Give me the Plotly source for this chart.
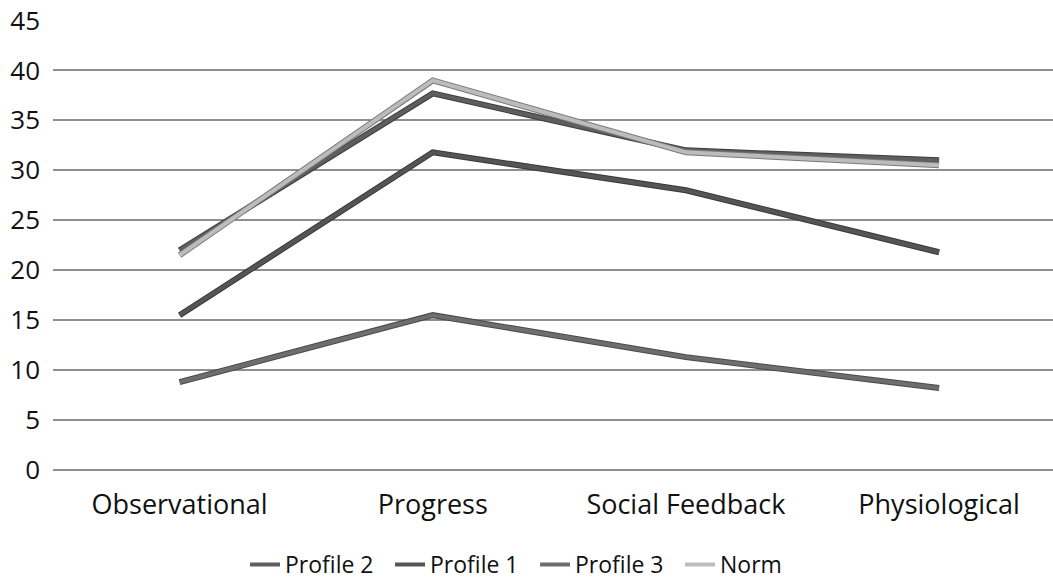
import plotly.graph_objects as go

categories = ["Observational", "Progress", "Social Feedback", "Physiological"]
profile2 = [22.0, 37.7, 32.0, 31.0]
profile1 = [15.5, 31.8, 28.0, 21.8]
profile3 = [8.8, 15.5, 11.3, 8.2]
norm = [21.5, 39.0, 31.8, 30.5]
y_ticks = [0, 5, 10, 15, 20, 25, 30, 35, 40, 45]

FONT = "Open Sans, Lato, sans-serif"

fig = go.Figure()

series = [
    ("Profile 2", profile2, "#3e3e3e", "#5e5e5e"),
    ("Profile 1", profile1, "#383838", "#555555"),
    ("Profile 3", profile3, "#4a4a4a", "#6e6e6e"),
    ("Norm", norm, "#7a7a7a", "#bcbcbc"),
]

for name, vals, edge, core in series:
    fig.add_trace(go.Scatter(
        x=categories, y=vals, mode="lines", name=name,
        legendgroup=name, showlegend=False,
        line=dict(color=edge, width=6), hoverinfo="skip",
    ))
    fig.add_trace(go.Scatter(
        x=categories, y=vals, mode="lines", name=name,
        legendgroup=name, showlegend=True,
        line=dict(color=core, width=4),
    ))

fig.update_layout(
    width=1053, height=582,
    margin=dict(l=53, r=0, t=20, b=112, autoexpand=False),
    paper_bgcolor="white", plot_bgcolor="white",
    font=dict(family=FONT, size=23, color="#111111"),
    showlegend=True,
    legend=dict(
        orientation="h", xref="container", x=0.2327, xanchor="left",
        yref="container", y=0.03, yanchor="middle",
        font=dict(family=FONT, size=23, color="#111111"),
        itemwidth=30, tracegroupgap=0,
        entrywidth=100, entrywidthmode="pixels",
    ),
    xaxis=dict(
        type="category", range=[-0.5, 3.45],
        showgrid=False, showline=False, ticks="", automargin=False,
        tickfont=dict(family=FONT, size=27),
        ticklabelstandoff=16,
    ),
    yaxis=dict(
        range=[0, 45.05], tickvals=y_ticks, automargin=False,
        showgrid=True, gridcolor="#8f8f8f", gridwidth=2,
        zeroline=True, zerolinecolor="#8f8f8f", zerolinewidth=2,
        showline=False, ticks="", ticklabelstandoff=12,
        ticklabeloverflow="allow",
        tickfont=dict(family=FONT, size=26),
    ),
)

# remove the default 8px page margin so the figure fills the window exactly
fig.write_html(
    "out.html",
    config={"displayModeBar": False},
    post_script="document.body.style.margin='0';",
)
